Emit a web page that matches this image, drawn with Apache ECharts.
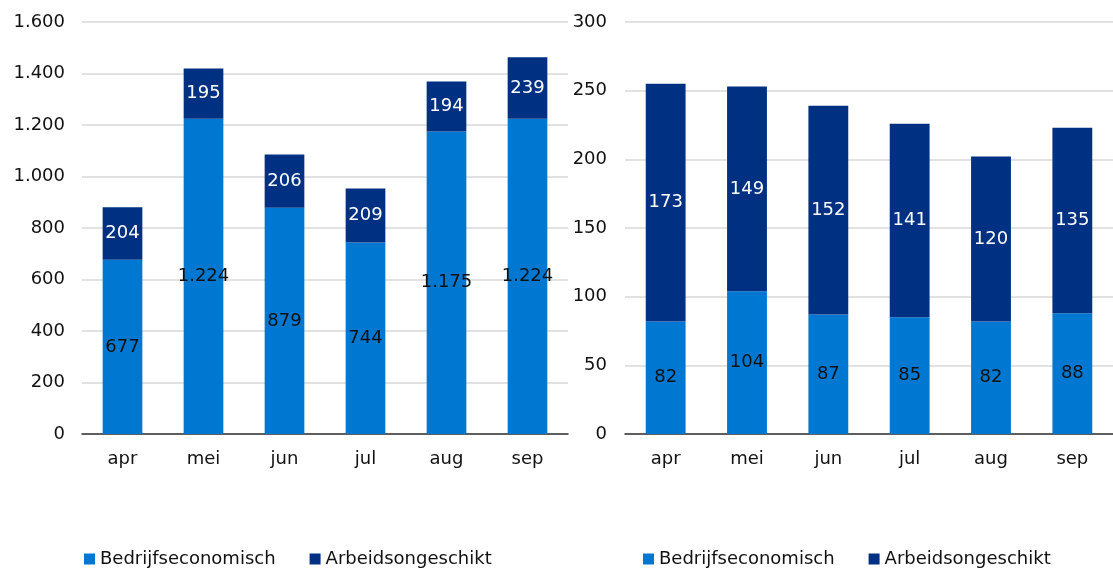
<!DOCTYPE html>
<html>
<head>
<meta charset="utf-8">
<script src="https://cdn.jsdelivr.net/npm/echarts@6/dist/echarts.min.js"></script>
<style>
  html, body { margin: 0; padding: 0; background: #fff; }
  #main { width: 1113px; height: 568px; }
</style>
</head>
<body>
<div id="main"></div>
<script>
var maanden = ['apr', 'mei', 'jun', 'jul', 'aug', 'sep'];
// linker grafiek
var bedrijfLinks = [677, 1224, 879, 744, 1175, 1224];
var arbeidLinks = [204, 195, 206, 209, 194, 239];
// rechter grafiek
var bedrijfRechts = [82, 104, 87, 85, 82, 88];
var arbeidRechts = [173, 149, 152, 141, 120, 135];

var lichtblauw = '#0078D2';
var donkerblauw = '#003082';
var lettertype = '"DejaVu Sans", sans-serif';
var grootte = 18;

function punt(v) {
  return String(v).replace(/\B(?=(\d{3})+(?!\d))/g, '.');
}

function xas(idx) {
  return {
    type: 'category',
    gridIndex: idx,
    data: maanden,
    axisTick: { show: false },
    axisLine: { lineStyle: { color: '#333', width: 1.5 } },
    axisLabel: { color: '#111', fontSize: grootte, fontFamily: lettertype, margin: 16 }
  };
}

function yas(idx, max, interval, margin) {
  return {
    type: 'value',
    gridIndex: idx,
    min: 0,
    max: max,
    interval: interval,
    axisLine: { show: false },
    axisTick: { show: false },
    splitLine: { lineStyle: { color: '#d9d9d9', width: 1.5 } },
    axisLabel: {
      color: '#111', fontSize: grootte, fontFamily: lettertype, margin: margin,
      formatter: function (v) { return punt(v); }
    }
  };
}

function reeks(naam, data, kleur, tekstkleur, idx, stapel) {
  return {
    name: naam,
    type: 'bar',
    stack: stapel,
    xAxisIndex: idx,
    yAxisIndex: idx,
    data: data,
    barWidth: '49%',
    itemStyle: { color: kleur },
    label: {
      show: true,
      position: 'inside',
      color: tekstkleur,
      fontSize: grootte,
      fontFamily: lettertype,
      formatter: function (p) { return punt(p.value); }
    }
  };
}

function legenda(left) {
  return {
    left: left,
    top: 545,
    itemWidth: 11,
    itemHeight: 11,
    itemGap: 34,
    icon: 'rect',
    textStyle: { color: '#111', fontSize: grootte, fontFamily: lettertype },
    data: ['Bedrijfseconomisch', 'Arbeidsongeschikt']
  };
}

var chart = echarts.init(document.getElementById('main'));
var option = {
  animation: false,
  grid: [
    { left: 82, top: 22, width: 486, height: 412 },
    { left: 625, top: 22, width: 498, height: 412 }
  ],
  xAxis: [xas(0), xas(1)],
  yAxis: [yas(0, 1600, 200, 17), yas(1, 300, 50, 18)],
  legend: [legenda(79), legenda(638)],
  series: [
    reeks('Bedrijfseconomisch', bedrijfLinks, lichtblauw, '#111', 0, 'links'),
    reeks('Arbeidsongeschikt', arbeidLinks, donkerblauw, '#fff', 0, 'links'),
    reeks('Bedrijfseconomisch', bedrijfRechts, lichtblauw, '#111', 1, 'rechts'),
    reeks('Arbeidsongeschikt', arbeidRechts, donkerblauw, '#fff', 1, 'rechts')
  ]
};
chart.setOption(option);
</script>
</body>
</html>
